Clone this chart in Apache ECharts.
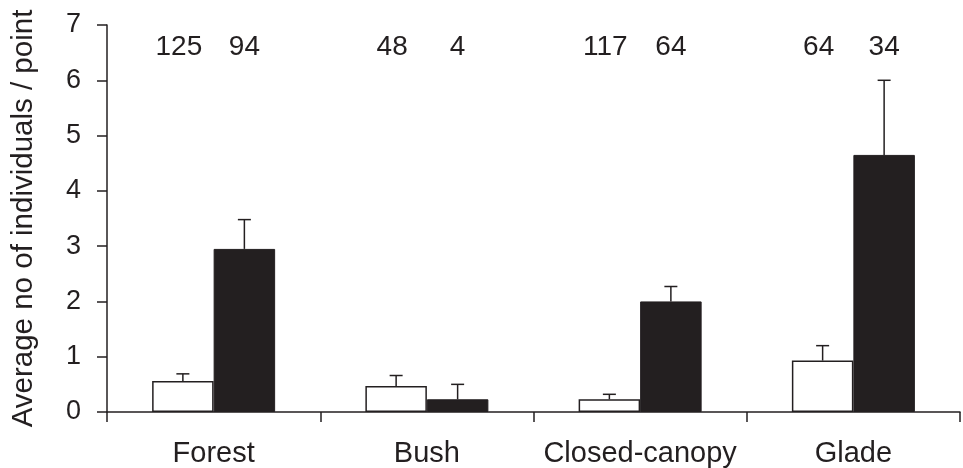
<!DOCTYPE html>
<html>
<head>
<meta charset="utf-8">
<script src="https://cdn.jsdelivr.net/npm/echarts@6/dist/echarts.min.js"></script>
<style>
  html, body { margin: 0; padding: 0; background: #fff; }
  #chart { width: 963px; height: 468px; }
</style>
</head>
<body>
<div id="chart"></div>
<script>
var categories = ['Forest', 'Bush', 'Closed-canopy', 'Glade'];
var openMeans = [0.56, 0.47, 0.23, 0.93];
var openUpper = [0.69, 0.66, 0.32, 1.20];
var filledMeans = [2.95, 0.23, 2.00, 4.65];
var filledUpper = [3.48, 0.50, 2.27, 6.00];
var openCounts = [125, 48, 117, 64];
var filledCounts = [94, 4, 64, 34];
var yTicks = [0, 1, 2, 3, 4, 5, 6, 7];

var ink = '#231f20';
var font = 'Liberation Sans, Arial, sans-serif';
var barW = 61.5;

var chartDom = document.getElementById('chart');
var myChart = echarts.init(chartDom);
var option;

function errorSeries(means, upper, side) {
    return {
        type: 'custom',
        z: 5,
        silent: true,
        data: categories.map(function (c, i) { return [i, means[i], upper[i]]; }),
        renderItem: function (params, api) {
            var base = api.coord([api.value(0), api.value(1)]);
            var top = api.coord([api.value(0), api.value(2)]);
            var x = base[0] + side * barW / 2;
            var style = { stroke: ink, lineWidth: 1.5 };
            return {
                type: 'group',
                children: [
                    { type: 'line', shape: { x1: x, y1: base[1], x2: x, y2: top[1] }, style: style },
                    { type: 'line', shape: { x1: x - 6.5, y1: top[1], x2: x + 6.5, y2: top[1] }, style: style }
                ]
            };
        }
    };
}

option = {
    animation: false,
    backgroundColor: '#fff',
    grid: { left: 107, right: 3, top: 25, bottom: 56, containLabel: false },
    xAxis: {
        type: 'category',
        data: categories,
        boundaryGap: true,
        axisLine: { lineStyle: { color: ink, width: 1.5 } },
        axisTick: { show: true, length: 10, lineStyle: { color: ink, width: 1.5 } },
        axisLabel: { color: ink, fontSize: 29, fontFamily: font, margin: 27, interval: 0 }
    },
    yAxis: {
        type: 'value',
        min: yTicks[0],
        max: yTicks[yTicks.length - 1],
        interval: 1,
        name: 'Average no of individuals / point',
        nameLocation: 'middle',
        nameGap: 68,
        nameTextStyle: { color: ink, fontSize: 29.5, fontFamily: font },
        axisLine: { show: true, lineStyle: { color: ink, width: 1.5 } },
        axisTick: { show: true, length: 10, lineStyle: { color: ink, width: 1.5 } },
        axisLabel: { color: ink, fontSize: 27, fontFamily: font, margin: 26 },
        splitLine: { show: false }
    },
    series: [
        {
            type: 'bar',
            data: openMeans,
            barWidth: barW,
            barGap: '0%',
            itemStyle: { color: '#fff', borderColor: ink, borderWidth: 1.5 }
        },
        {
            type: 'bar',
            data: filledMeans,
            barWidth: barW,
            barGap: '0%',
            itemStyle: { color: ink, borderColor: ink, borderWidth: 1 }
        },
        errorSeries(openMeans, openUpper, -1),
        errorSeries(filledMeans, filledUpper, 1),
        {
            type: 'custom',
            silent: true,
            data: categories.map(function (c, i) { return [i, openCounts[i], filledCounts[i]]; }),
            renderItem: function (params, api) {
                var p = api.coord([api.value(0), yTicks[yTicks.length - 1]]);
                var st = { fill: ink, fontSize: 28, fontFamily: font, align: 'center', verticalAlign: 'middle' };
                return {
                    type: 'group',
                    children: [
                        { type: 'text', x: p[0] - barW / 2 - 4, y: p[1] + 22, style: Object.assign({ text: String(api.value(1)) }, st) },
                        { type: 'text', x: p[0] + barW / 2, y: p[1] + 22, style: Object.assign({ text: String(api.value(2)) }, st) }
                    ]
                };
            }
        }
    ]
};

option && myChart.setOption(option);
</script>
</body>
</html>
